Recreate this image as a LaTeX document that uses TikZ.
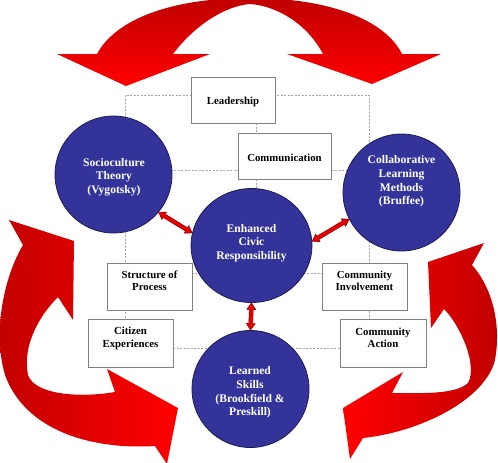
\documentclass[tikz,border=0pt]{standalone}
\usepackage{fontspec}
\setmainfont{Liberation Serif}
\usetikzlibrary{calc,shapes.geometric}
\definecolor{circfill}{RGB}{51,51,153}
\definecolor{circline}{RGB}{28,28,85}
\definecolor{boxline}{RGB}{128,128,128}
\definecolor{gridgray}{RGB}{165,165,165}
\definecolor{arrred}{RGB}{232,0,0}
\definecolor{arrdark}{RGB}{150,0,0}
\definecolor{bigdark}{RGB}{192,0,0}
\definecolor{bigred}{RGB}{255,0,0}
\newcommand\blockdarrow[2]{%
  \path (#1) coordinate (ba1) (#2) coordinate (ba2);
  \coordinate (bh1) at ($(ba1)!6.5pt!(ba2)$);
  \coordinate (bh2) at ($(ba2)!6.5pt!(ba1)$);
  \draw[smallarrow] (ba1) -- ($(bh1)!4.3pt!90:(ba2)$) -- ($(bh1)!1.9pt!90:(ba2)$)
    -- ($(bh2)!1.9pt!-90:(ba1)$) -- ($(bh2)!4.3pt!-90:(ba1)$) -- (ba2)
    -- ($(bh2)!4.3pt!90:(ba1)$) -- ($(bh2)!1.9pt!90:(ba1)$)
    -- ($(bh1)!1.9pt!-90:(ba2)$) -- ($(bh1)!4.3pt!-90:(ba2)$) -- cycle;
}
\begin{document}
\begin{tikzpicture}[x=1pt,y=-1pt,
  gridline/.style={draw=gridgray, line width=0.6pt, dash pattern=on 2pt off 1.5pt},
  infobox/.style={draw=boxline, line width=1pt, fill=white, rectangle, inner sep=0pt},
  boxtext/.style={font=\fontsize{10.8}{12.3}\selectfont\bfseries, align=center, inner sep=0pt, text=black},
  bigcirc/.style={circle, draw=circline, line width=0.8pt, fill=circfill, inner sep=0pt, minimum size=117pt},
  circtext/.style={font=\fontsize{11.6}{13.7}\selectfont\bfseries, text=white, align=center, inner sep=0pt},
  smallarrow/.style={draw=arrdark, fill=arrred, line width=0.6pt, line join=miter}
]
\useasboundingbox (0,0) rectangle (498,463);

% big red curved arrows
\shade[top color=bigdark, bottom color=bigred]
  (250,-2) .. controls (170,-2) and (115,20) .. (97,54) -- (57,54) -- (126,86) -- (210,54) -- (173,54)
  .. controls (195,25) and (225,6) .. (250,4)
  .. controls (278,6) and (308,25) .. (323,54) -- (287,54) -- (372,84) -- (441,54) -- (402,54)
  .. controls (385,20) and (330,-2) .. (250,-2) -- cycle;
\shade[left color=bigdark, right color=bigred]
  (23,245) -- (9,220) -- (74,241) -- (73,320) -- (58,297)
  .. controls (40,315) and (22,345) .. (28,375)
  .. controls (35,395) and (80,398) .. (115,392)
  -- (107,369) -- (178,408) -- (167,464) -- (155,446)
  .. controls (90,450) and (25,430) .. (5,375)
  .. controls (-8,330) and (5,275) .. (23,245) -- cycle;
\shade[left color=bigred, right color=bigdark]
  (472,265) -- (484,243) -- (428,262) -- (431,328) -- (444,309)
  .. controls (460,325) and (478,365) .. (468,383)
  .. controls (455,395) and (420,393) .. (392,393)
  -- (403,372) -- (343,408) -- (350,459) -- (363,438)
  .. controls (420,432) and (485,400) .. (495,360)
  .. controls (502,320) and (490,285) .. (472,265) -- cycle;

% dashed grid
\coordinate (gTL) at (125,95);
\coordinate (gBR) at (369,348);
\coordinate (gML) at (125,170);
\coordinate (gMR) at (369,170);
\coordinate (gLL) at (125,273);
\coordinate (gLR) at (369,273);
\coordinate (gTC) at (256,95);
\coordinate (gCC) at (256,246);
\draw[gridline] (gTL) rectangle (gBR);
\draw[gridline] (gML) -- (gMR);
\draw[gridline] (gLL) -- (gLR);
\draw[gridline] (gTC) -- (gCC);

% boxes
\node[infobox, minimum width=84pt, minimum height=46pt] (lead) at (233,100) {};
\node[boxtext] at (233,101.5) {Leadership};
\node[infobox, minimum width=93pt, minimum height=46pt] (comm) at (284.5,156) {};
\node[boxtext] at (284.5,157.5) {Communication};
\node[infobox, minimum width=85pt, minimum height=47pt] (struct) at (149.5,286.5) {};
\node[boxtext] at (149.5,281) {Structure of\\Process};
\node[infobox, minimum width=85pt, minimum height=47pt] (cinv) at (364.5,286.5) {};
\node[boxtext] at (364.5,281) {Community\\Involvement};
\node[infobox, minimum width=85pt, minimum height=48pt] (citz) at (130.5,343) {};
\node[boxtext] at (130.5,338.5) {Citizen\\Experiences};
\node[infobox, minimum width=86pt, minimum height=48pt] (cact) at (383,343) {};
\node[boxtext] at (383,337.5) {Community\\Action};

% circles
\node[bigcirc] (soc) at (113.5,174.5) {};
\node[circtext] at (114,177) {Socioculture\\Theory\\(Vygotsky)};
\node[bigcirc] (coll) at (401.5,192.5) {};
\node[circtext] at (401.5,181.5) {Collaborative\\Learning\\Methods\\(Bruffee)};
\node[ellipse, draw=circline, line width=0.8pt, fill=circfill, inner sep=0pt, minimum width=121pt, minimum height=114pt] (enh) at (251.5,245.5) {};
\node[circtext] at (251.5,243) {Enhanced\\Civic\\Responsibility};
\node[bigcirc] (learn) at (250.5,389) {};
\node[circtext] at (250,392.5) {Learned\\Skills\\(Brookfield \&\\Preskill)};

% small double arrows
\blockdarrow{soc.-40}{enh.168}
\blockdarrow{enh.4}{coll.207}
\blockdarrow{enh.south}{learn.north}
\end{tikzpicture}
\end{document}
